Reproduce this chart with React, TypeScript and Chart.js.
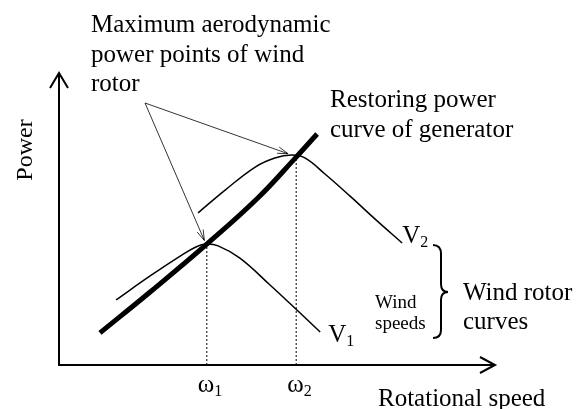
import React, { useEffect, useRef } from "react";
import { Chart, registerables } from "chart.js";

Chart.register(...registerables);

// Restoring power curve of generator (rotational speed, power) in arbitrary units 0..100
const generatorSpeed = [9.4, 20.9, 33.9, 45.6, 54.4, 59.2];
const generatorPower = [11.0, 25.0, 41.4, 57.2, 71.2, 79.1];

// Wind rotor curve at wind speed V1
const rotorV1Speed = [13.1, 20.9, 27.8, 31.4, 33.7, 36.5, 41.5, 48.4, 55.3, 59.9];
const rotorV1Power = [22.3, 30.5, 37.3, 40.4, 41.4, 40.8, 36.6, 27.4, 17.8, 11.3];

// Wind rotor curve at wind speed V2
const rotorV2Speed = [31.9, 38.1, 45.0, 49.5, 53.4, 56.4, 61.0, 66.7, 72.7, 78.7];
const rotorV2Power = [52.1, 59.9, 67.8, 70.9, 71.9, 70.9, 65.4, 57.9, 49.7, 41.8];

// Operating points ω1, ω2
const optimumSpeeds = [33.9, 54.4];
const optimumPowers = [41.4, 71.2];
const optimumLabels = ["ω", "ω"];
const optimumSubs = ["1", "2"];

const curveLabels = ["V", "V"];
const curveSubs = ["1", "2"];

const annotationText = ["Maximum aerodynamic", "power points of wind", "rotor"];
const generatorText = ["Restoring power", "curve of generator"];
const windSpeedText = ["Wind", "speeds"];
const rotorCurvesText = ["Wind rotor", "curves"];
const xAxisTitle = "Rotational speed";
const yAxisTitle = "Power";

const SERIF = "\"Liberation Serif\", \"Times New Roman\", serif";

const zip = (xs: number[], ys: number[]) => xs.map((x, i) => ({ x, y: ys[i] }));

const annotatePlugin = {
  id: "annotate",
  afterDraw(chart: any) {
    const { ctx, chartArea: a, scales } = chart;
    const xs = scales.x;
    const ys = scales.y;
    ctx.save();
    ctx.strokeStyle = "#000";
    ctx.fillStyle = "#000";
    ctx.lineCap = "butt";

    // axes
    ctx.lineWidth = 2;
    ctx.beginPath();
    ctx.moveTo(a.left, a.top);
    ctx.lineTo(a.left, a.bottom);
    ctx.lineTo(a.right, a.bottom);
    ctx.stroke();
    ctx.beginPath();
    ctx.moveTo(a.left - 9, a.top + 15);
    ctx.lineTo(a.left, a.top);
    ctx.lineTo(a.left + 9, a.top + 15);
    ctx.moveTo(a.right - 15, a.bottom - 8);
    ctx.lineTo(a.right, a.bottom);
    ctx.lineTo(a.right - 15, a.bottom + 8);
    ctx.stroke();

    // axis titles
    ctx.font = `25px ${SERIF}`;
    ctx.textAlign = "left";
    ctx.textBaseline = "alphabetic";
    ctx.fillText(xAxisTitle, 378, 406);
    ctx.save();
    ctx.translate(26, 150);
    ctx.rotate(-Math.PI / 2);
    ctx.textAlign = "center";
    ctx.textBaseline = "middle";
    ctx.font = `24px ${SERIF}`;
    ctx.fillText(yAxisTitle, 0, 0);
    ctx.restore();

    const withSub = (base: string, sub: string, x: number, y: number) => {
      ctx.textAlign = "left";
      ctx.textBaseline = "alphabetic";
      ctx.font = `25px ${SERIF}`;
      ctx.fillText(base, x, y);
      const w = ctx.measureText(base).width;
      ctx.font = `16px ${SERIF}`;
      ctx.fillText(sub, x + w, y + 4);
    };

    // ω labels under axis
    optimumSpeeds.forEach((s, i) => {
      const px = xs.getPixelForValue(s);
      withSub(optimumLabels[i], optimumSubs[i], px - 9, 392);
    });

    // V labels at curve ends
    const v1End = { x: xs.getPixelForValue(rotorV1Speed[rotorV1Speed.length - 1]), y: ys.getPixelForValue(rotorV1Power[rotorV1Power.length - 1]) };
    const v2End = { x: xs.getPixelForValue(rotorV2Speed[rotorV2Speed.length - 1]), y: ys.getPixelForValue(rotorV2Power[rotorV2Power.length - 1]) };
    withSub(curveLabels[0], curveSubs[0], v1End.x + 8, v1End.y + 10);
    withSub(curveLabels[1], curveSubs[1], v2End.x, v2End.y);

    // text blocks
    ctx.font = `25px ${SERIF}`;
    ctx.textAlign = "left";
    ctx.textBaseline = "alphabetic";
    annotationText.forEach((t, i) => ctx.fillText(t, 91, 32 + i * 29.5));
    generatorText.forEach((t, i) => ctx.fillText(t, 330, 107 + i * 30));
    rotorCurvesText.forEach((t, i) => ctx.fillText(t, 463, 300 + i * 29));
    ctx.font = `19px ${SERIF}`;
    windSpeedText.forEach((t, i) => ctx.fillText(t, 375, 308 + i * 21));

    // brace
    ctx.lineWidth = 2;
    ctx.beginPath();
    ctx.moveTo(433, 245);
    ctx.quadraticCurveTo(441, 245, 441, 254);
    ctx.lineTo(441, 284);
    ctx.quadraticCurveTo(441, 292, 448, 292);
    ctx.quadraticCurveTo(441, 292, 441, 300);
    ctx.lineTo(441, 330);
    ctx.quadraticCurveTo(441, 338, 433, 338);
    ctx.stroke();

    // annotation arrows to the max power points
    const src = { x: 145, y: 103 };
    const peaks = [
      { x: xs.getPixelForValue(rotorV2Speed[4]), y: ys.getPixelForValue(rotorV2Power[4]) },
      { x: xs.getPixelForValue(rotorV1Speed[4]), y: ys.getPixelForValue(rotorV1Power[4]) },
    ];
    ctx.lineWidth = 0.8;
    peaks.forEach((p) => {
      const dx = p.x - src.x;
      const dy = p.y - src.y;
      const len = Math.hypot(dx, dy);
      const ux = dx / len;
      const uy = dy / len;
      const tx = p.x - ux * 4;
      const ty = p.y - uy * 4;
      ctx.beginPath();
      ctx.moveTo(src.x, src.y);
      ctx.lineTo(tx, ty);
      ctx.stroke();
      const ang = Math.atan2(uy, ux);
      const hl = 11;
      const spread = 0.3;
      ctx.beginPath();
      ctx.moveTo(tx - hl * Math.cos(ang - spread), ty - hl * Math.sin(ang - spread));
      ctx.lineTo(tx, ty);
      ctx.lineTo(tx - hl * Math.cos(ang + spread), ty - hl * Math.sin(ang + spread));
      ctx.stroke();
    });

    ctx.restore();
  },
};

export default function App() {
  const canvasRef = useRef<HTMLCanvasElement | null>(null);

  useEffect(() => {
    let chart: Chart | null = null;
    let cancelled = false;
    const base = {
      showLine: true,
      pointRadius: 0,
      borderColor: "#000",
      backgroundColor: "#000",
      fill: false,
      clip: false as any,
      tension: 0.4,
    };
    const build = () => {
      if (cancelled || !canvasRef.current) return;
      chart = new Chart(canvasRef.current, {
        type: "scatter",
        data: {
          datasets: [
            ...optimumSpeeds.map((s, i) => ({
              ...base,
              tension: 0,
              label: `omega${i + 1}`,
              data: [{ x: s, y: 0 }, { x: s, y: optimumPowers[i] }],
              borderWidth: 1,
              borderDash: [2, 2],
            })),
            {
              ...base,
              label: "V1",
              data: zip(rotorV1Speed, rotorV1Power),
              borderWidth: 1.5,
            },
            {
              ...base,
              label: "V2",
              data: zip(rotorV2Speed, rotorV2Power),
              borderWidth: 1.5,
            },
            {
              ...base,
              label: "Generator",
              data: zip(generatorSpeed, generatorPower),
              borderWidth: 5,
              borderCapStyle: "butt",
            },
          ] as any,
        },
        options: {
          responsive: false,
          animation: false,
          layout: { padding: { left: 59, top: 73, right: 84, bottom: 44 } },
          scales: {
            x: { type: "linear", min: 0, max: 100, display: false },
            y: { type: "linear", min: 0, max: 100, display: false },
          },
          plugins: {
            legend: { display: false },
            tooltip: { enabled: false },
          },
          events: [],
        },
        plugins: [annotatePlugin],
      });
    };
    const fonts: any = (document as any).fonts;
    if (fonts && fonts.load) {
      Promise.all([
        fonts.load('25px "Liberation Serif"', "Maximum ω"),
        fonts.load('16px "Liberation Serif"', "12"),
      ])
        .catch(() => null)
        .then(build);
    } else {
      build();
    }
    return () => {
      cancelled = true;
      if (chart) chart.destroy();
    };
  }, []);

  return (
    <div style={{ position: "absolute", left: 0, top: 0, width: 579, height: 409, background: "#fff" }}>
      <canvas ref={canvasRef} width={579} height={409} style={{ display: "block" }} />
    </div>
  );
}
